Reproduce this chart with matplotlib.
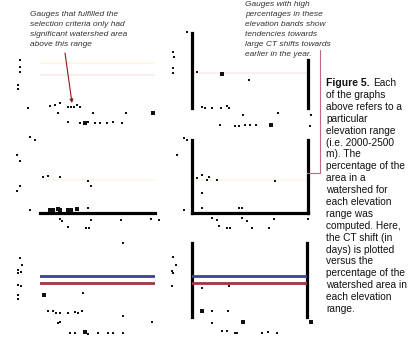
import matplotlib
matplotlib.use("Agg")
import matplotlib.pyplot as plt
from matplotlib.lines import Line2D

plt.rcParams['font.family'] = ['Liberation Sans', 'DejaVu Sans']

W, H = 409, 352
fig = plt.figure(figsize=(W / 100, H / 100), dpi=100)

# ---------------- data (x: % of watershed area, y: CT shift in days) ----------------
tl_x = [-20, -20, -20, -22, -22, -12, 10, 15, 20, 18, 28, 31, 34, 37, 40, 53, 86,
        28, 40, 48, 55, 60, 67, 73, 82]
tl_y = [15, 8, 3, -10, -14, -33, -31, -30, -28, -38, -32, -32, -32, -30, -32, -38, -38,
        -47, -48, -47, -48, -48, -48, -47, -48]
tl_big_x = [113, 45]
tl_big_y = [-38, -48]

tr_x = [-5, -19, -18, -19, -19, 5, 57, 10, 13, 20, 29, 35, 37, 51, 86, 119, 118,
        28, 43, 47, 53, 58, 64]
tr_y = [43, 23, 18, 7, 2, 3, -5, -32, -33, -33, -33, -31, -33, -40, -38, -40, -51,
        -50, -51, -51, -50, -50, -50]
tr_big_x = [30, 79]
tr_big_y = [1, -50]

ml_x = [-10, -5, -23, -20, 3, 8, 20, 48, 51, -20, -23, -10, 48,
        20, 22, 51, 81, 111, 119, 28, 46, 49]
ml_y = [43, 40, 25, 19, 3, 4, 3, -1, -6, -6, -11, -30, -28,
        -39, -41, -40, -40, -39, -40, -47, -48, -48]
ml_bar_x = [10, 13, 18, 20, 28, 31, 37]
ml_bar_y = [-30, -30, -29, -30, -30, -30, -29]

mr_x = [-8, -5, -15, 5, 10, 15, 17, 25, 10, 10, -8, 47, 50, 83,
        20, 25, 27, 35, 38, 50, 55, 60, 77, 82, 116]
mr_y = [42, 40, 25, 2, 5, 0, 3, 0, -13, -28, -30, -28, -28, -1,
        -38, -40, -46, -48, -48, -38, -41, -48, -48, -39, -39]

bl_x = [83, -20, -18, -22, -22, -19, -22, -19, -22, -22, 43, 8, 13, 16, 20, 28, 35, 38, 42,
        20, 18, 83, 112, 30, 35, 48, 58, 68, 73, 83]
bl_y = [40, 25, 18, 13, 10, 11, -2, -3, -12, -16, -10, -28, -28, -30, -30, -30, -29, -30, -28,
        -39, -40, -33, -39, -50, -50, -51, -50, -50, -50, -50]
bl_big_x = [4, 45]
bl_big_y = [-12, -49]

br_x = [-19, -16, -20, -19, -20, 10, 37, 20, 36, 20, 30, 35, 43, 45, 70, 76, 85]
br_y = [26, 18, 12, 10, -3, -5, -3, -28, -28, -40, -48, -48, -50, -50, -50, -49, -50]
br_big_x = [10, 51, 119]
br_big_y = [-28, -39, -39]

ref_blue = 7     # upper reference line (days)
ref_red = 0      # lower reference line (days)

note_left = ["Gauges that fulfilled the", "selection criteria only had",
             "significant watershed area", "above this range"]
note_right = ["Gauges with high", "percentages in these", "elevation bands show",
              "tendencies towards", "large CT shifts towards", "earlier in the year."]
caption_lines = ["of the graphs", "above refers to a", "particular", "elevation range",
                 "(i.e. 2000-2500", "m). The", "percentage of the", "area in a",
                 "watershed for", "each elevation", "range was", "computed. Here,",
                 "the CT shift (in", "days) is plotted", "versus the",
                 "percentage of the", "watershed area in", "each elevation", "range."]

# ---------------- layout ----------------
def panel(l, t, r, b, ylim, spines=()):
    ax = fig.add_axes([l / W, 1 - b / H, (r - l) / W, (b - t) / H])
    ax.set_xlim(0, r - l)
    ax.set_ylim(*ylim)
    ax.set_xticks([]); ax.set_yticks([])
    ax.patch.set_visible(False)
    for name, sp in ax.spines.items():
        if name in spines:
            sp.set_linewidth(2.3)
            sp.set_color('black')
        else:
            sp.set_visible(False)
    return ax

ax_tl = panel(40, 33, 155, 108, (-33, 42))
ax_tr = panel(192, 33, 308, 108, (-33, 42), spines=('left', 'right'))
ax_tr.spines['right'].set_bounds(-33, 15)
ax_ml = panel(40, 140, 155, 213, (-33, 40), spines=('bottom',))
ax_mr = panel(192, 140, 308, 213, (-33, 40), spines=('left', 'bottom', 'right'))
ax_bl = panel(40, 243, 155, 317, (-34, 40))
ax_br = panel(192, 243, 307, 317, (-34, 40), spines=('left', 'right'))

dot = dict(marker='s', color='#111111', linewidths=0, clip_on=False, zorder=5)

def pts(ax, x, y, s=3.5):
    ax.scatter(x, y, s=s, **dot)

# faint ghost reference lines in the upper panels
ax_tl.axhline(12, color='#faf7e8', lw=1.5, zorder=1)
ax_tl.axhline(0, color='#fbecee', lw=1.5, zorder=1)
ax_tr.axhline(2, color='#fbeef0', lw=1.5, zorder=1)
for ax in (ax_ml, ax_mr):
    ax.axhline(0, color='#fbf7ee', lw=1.5, zorder=1)

pts(ax_tl, tl_x, tl_y); pts(ax_tl, tl_big_x, tl_big_y, 11)
pts(ax_tr, tr_x, tr_y); pts(ax_tr, tr_big_x, tr_big_y, 11)
pts(ax_ml, ml_x, ml_y); pts(ax_ml, ml_bar_x, ml_bar_y, 9)
pts(ax_mr, mr_x, mr_y)
pts(ax_bl, bl_x, bl_y); pts(ax_bl, bl_big_x, bl_big_y, 11)
pts(ax_br, br_x, br_y); pts(ax_br, br_big_x, br_big_y, 11)

for ax in (ax_bl, ax_br):
    ax.axhline(ref_blue, color='#3d4199', lw=2.0, zorder=3)
    ax.axhline(ref_red, color='#9e3444', lw=2.0, zorder=3)

# arrow from the left note
ax_tl.annotate('', xy=(32, -28), xytext=(25, 22),
               arrowprops=dict(arrowstyle='-|>', color='#8b1a1a', lw=0.8,
                               mutation_scale=5, shrinkA=0, shrinkB=0),
               annotation_clip=False)

# pink leader from the right note to the middle-right panel
fig.add_artist(Line2D([307 / W, 320 / W, 320 / W],
                      [1 - 173 / H, 1 - 173 / H, 1 - 50 / H],
                      transform=fig.transFigure, color='#c0668a', lw=0.8))

# ---------------- texts ----------------
for i, line in enumerate(note_left):
    fig.text(30 / W, 1 - (16 + i * 10) / H, line, fontsize=6.0, style='italic',
             color='#333333', va='baseline', ha='left')
for i, line in enumerate(note_right):
    fig.text(245 / W, 1 - (6 + i * 9.9) / H, line, fontsize=6.0, style='italic',
             color='#333333', va='baseline', ha='left')

cap_x = 326
cap_fs = 7.3
t_bold = fig.text(cap_x / W, 1 - 86 / H, "Figure 5.", fontsize=cap_fs + 0.2, weight='bold',
                  color='#111111', va='baseline', ha='left')
fig.canvas.draw()
bb = t_bold.get_window_extent()
fig.text((bb.x1 + 4) / W, 1 - 86 / H, "Each", fontsize=cap_fs, color='#111111',
         va='baseline', ha='left')
for i, line in enumerate(caption_lines):
    fig.text(cap_x / W, 1 - (86 + (i + 1) * 11.9) / H, line, fontsize=cap_fs,
             color='#111111', va='baseline', ha='left')

fig.savefig('out.png', dpi=100, facecolor='white')
